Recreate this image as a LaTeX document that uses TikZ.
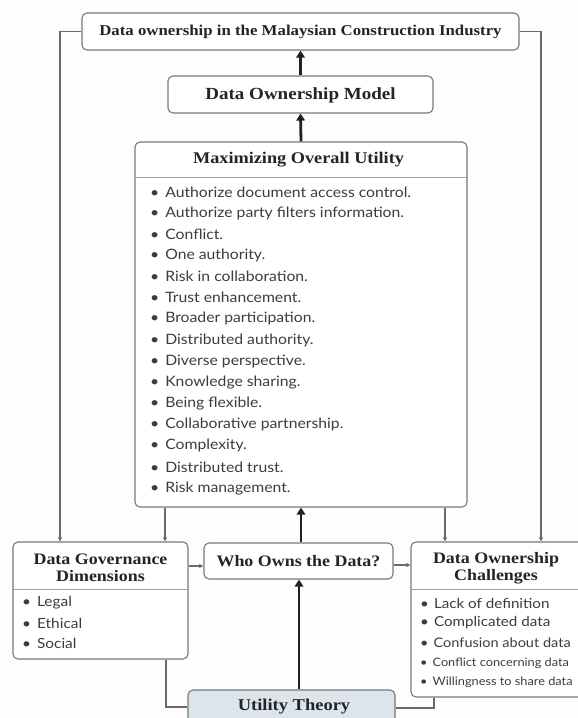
\documentclass[tikz,border=0pt]{standalone}
\usepackage{fontspec}
\setmainfont{Liberation Serif}
\newfontfamily\headfont[FakeStretch=1.12]{Liberation Serif}
\newfontfamily\listfont[FakeStretch=1.1]{Lato}
\usetikzlibrary{arrows.meta}

\definecolor{paper}{HTML}{FDFDFD}
\definecolor{boxline}{HTML}{787878}
\definecolor{ink}{HTML}{242424}
\definecolor{listink}{HTML}{3C3C3C}
\definecolor{wire}{HTML}{6A6A6A}
\definecolor{flow}{HTML}{222222}
\definecolor{utilfill}{HTML}{DCE4EC}

\begin{document}
\begin{tikzpicture}[x=1pt,y=-1pt,
  panel/.style 2 args={draw=boxline, line width=1.1pt, rounded corners=5pt,
    fill=white, inner sep=0pt, minimum width=#1, minimum height=#2},
  divider/.style={draw=boxline!70, line width=0.7pt},
  head/.style={text=ink, inner sep=0pt, align=center,
    font=\headfont\bfseries\fontsize{#1}{17}\selectfont},
  head/.default=16,
  item/.style={text=listink, inner sep=0pt, anchor=west,
    font=\listfont\fontsize{#1}{#1}\selectfont},
  item/.default=14.3,
  mainflow/.style={draw=flow, line width=2.8pt,
    -{Triangle[length=7pt,width=8.5pt]}},
  wire/.style={draw=wire, line width=1.1pt,
    -{Stealth[length=4.5pt,width=4.5pt]}},
  plainwire/.style={draw=wire, line width=1.1pt}
]
\clip (0,0) rectangle (578,718);
\fill[paper] (0,0) rectangle (578,718);

% ---- boxes ----
\node[panel={437pt}{37pt}] (top) at (300.5,31.5) {};
\node[head=15] (toptext) at (300.5,32) {Data ownership in the Malaysian Construction Industry};

\node[panel={265pt}{37pt}] (model) at (300.5,94.5) {};
\node[head=17] (modeltext) at (300.5,95) {Data Ownership Model};

\node[panel={332pt}{365pt}] (max) at (301,324.5) {};
\node[head=16.3] (maxtext) at (298.5,160) {Maximizing Overall Utility};
\draw[divider] (max.west |- 0,177) -- (max.east |- 0,177);
\foreach \t [count=\i] in {Authorize document access control.,
  Authorize party filters information.,Conflict.,One authority.,
  Risk in collaboration.,Trust enhancement.,Broader participation.,
  Distributed authority.,Diverse perspective.,Knowledge sharing.,
  Being flexible.,Collaborative partnership.,Complexity.,
  Distributed trust.,Risk management.}
  \node[item] (m\i) at (150,{192+21.15*(\i-1)}) {\textbullet\hspace{6pt}\t};

\node[panel={175pt}{117pt}] (gov) at (100.5,600.5) {};
\node[head=16] (govtext) at (100.5,568) {Data Governance\\Dimensions};
\draw[divider] (gov.west |- 0,589) -- (gov.east |- 0,589);
\foreach \t [count=\i] in {Legal,Ethical,Social}
  \node[item=14] (g\i) at (22,{603+20*(\i-1)}) {\textbullet\hspace{6pt}\t};

\node[panel={189pt}{36pt}] (who) at (298.5,561) {};
\node[head=16] (whotext) at (298.5,561.5) {Who Owns the Data?};

\node[panel={185pt}{155pt}] (chal) at (503.5,619.5) {};
\node[head=16] (chaltext) at (496,568) {Data Ownership\\Challenges};
\draw[divider] (chal.west |- 0,589) -- (chal.east |- 0,589);
\node[item=13.8] (c1) at (420,603) {\textbullet\hspace{5pt}Lack of definition};
\node[item=13.8] (c2) at (420,623) {\textbullet\hspace{5pt}Complicated data};
\node[item=13.2] (c3) at (420,643) {\textbullet\hspace{5pt}Confusion about data};
\node[item=11.6] (c4) at (420,663) {\textbullet\hspace{5pt}Conflict concerning data};
\node[item=11.6] (c5) at (420,682) {\textbullet\hspace{5pt}Willingness to share data};

\node[panel={207pt}{40pt}, fill=utilfill] (util) at (291.5,710) {};
\node[head=16.5] (utiltext) at (294,707) {Utility Theory};

% ---- main upward flow ----
\draw[mainflow] (model.north) -- (top.south);
\draw[mainflow] (max.north) -- (model.south);
\draw[mainflow] (who.north -| 301,0) -- (max.south -| 301,0);
\draw[mainflow] (util.north -| 299,0) -- (who.south -| 299,0);

% ---- side links ----
\draw[wire] (gov.east |- 0,566) -- (who.west |- 0,566);
\draw[wire] (who.east |- 0,565) -- (chal.west |- 0,565);
\draw[wire] (top.west) -| (gov.north -| 60,0);
\draw[wire] (top.east) -| (chal.north -| 541,0);
\draw[wire] (max.south -| 165,0) -- (gov.north -| 165,0);
\draw[wire] (max.south -| 445,0) -- (chal.north -| 445,0);
\draw[plainwire] (gov.south -| 166,0) |- (util.west |- 0,707);
\draw[plainwire] (chal.south -| 434,0) |- (util.east |- 0,708);
\end{tikzpicture}
\end{document}
